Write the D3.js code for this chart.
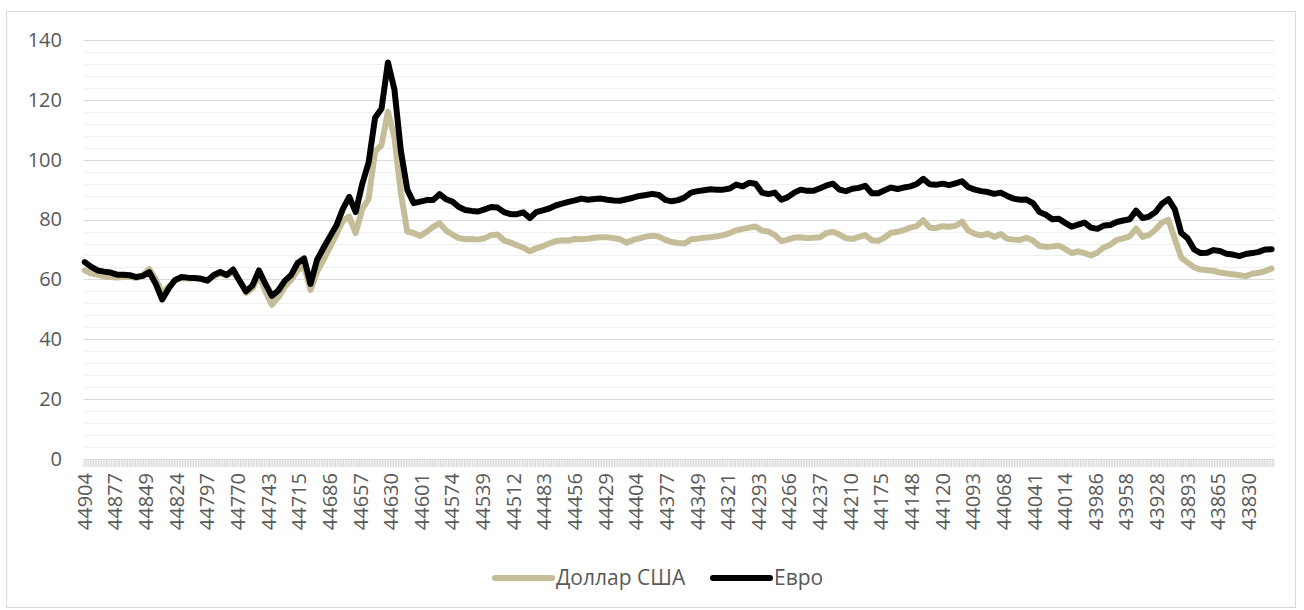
<!DOCTYPE html>
<html><head><meta charset="utf-8">
<script src="https://cdn.jsdelivr.net/npm/d3@7"></script>
<style>
body{margin:0;background:#fff;}
svg text{font-family:"Open Sans",sans-serif;fill:#595959;}
</style>
</head><body>
<svg id="chart" width="1304" height="610"></svg>
<script>
// ---- data ----
const tickLabels = ["44904","44877","44849","44824","44797","44770","44743","44715","44686","44657",
  "44630","44601","44574","44539","44512","44483","44456","44429","44404","44377","44349","44321",
  "44293","44266","44237","44210","44175","44148","44120","44093","44068","44041","44014","43986",
  "43958","43928","43893","43865","43830"];
const nCategories = 738;   // number of dates on the category axis
const labelEvery = 19;     // one label each 19 categories
const sampleStep = 4;      // values below were read every 4 categories
const yTicks = [0,20,40,60,80,100,120,140];
const seriesNames = ["Доллар США","Евро"];

const usd = [63.0,62.0,61.5,61.0,60.8,60.6,60.8,60.9,60.5,61.5,
  63.5,60.0,55.5,57.5,59.8,60.5,60.3,60.5,60.3,59.8,
  61.0,62.0,61.3,62.5,59.5,55.5,57.0,61.5,56.0,51.5,
  54.0,57.5,60.0,63.0,64.5,56.5,62.5,66.5,70.8,75.0,
  79.5,81.0,75.5,83.5,86.8,102.7,104.9,116.0,107.5,89.0,
  76.0,75.5,74.5,75.9,77.6,78.8,76.3,75.0,73.8,73.4,
  73.5,73.3,73.8,74.8,75.0,73.0,72.3,71.4,70.6,69.4,
  70.4,71.1,72.0,72.8,73.1,73.0,73.5,73.4,73.6,73.9,
  74.1,74.1,73.8,73.4,72.3,73.2,73.7,74.3,74.6,74.3,
  73.2,72.5,72.2,72.0,73.4,73.6,73.9,74.1,74.4,74.8,
  75.5,76.4,76.9,77.3,77.7,76.3,76.0,74.8,72.8,73.3,
  74.0,74.1,73.8,73.9,74.1,75.5,75.9,75.0,73.8,73.5,
  74.2,74.8,73.1,72.9,74.0,75.6,75.9,76.5,77.3,77.8,
  79.8,77.3,77.2,77.8,77.6,77.9,79.3,76.3,75.2,74.7,
  75.3,74.2,75.2,73.6,73.3,73.2,73.9,73.0,71.2,70.9,
  71.0,71.3,70.2,68.8,69.4,68.8,68.0,69.0,70.7,71.6,
  73.2,73.7,74.4,77.0,74.2,74.9,76.6,79.0,79.9,73.5,
  67.3,65.6,64.0,63.3,63.1,62.9,62.3,62.0,61.7,61.4,
  61.1,61.9,62.2,62.8,63.6];

const eur = [65.8,64.2,63.0,62.6,62.3,61.6,61.6,61.4,60.8,61.2,
  62.4,58.5,53.3,57.0,59.8,60.8,60.6,60.5,60.2,59.6,
  61.5,62.5,61.5,63.3,59.5,56.0,58.0,63.0,58.5,54.5,
  56.3,59.5,61.5,65.5,67.0,58.5,66.5,70.5,74.3,78.0,
  83.5,87.6,82.5,91.8,99.0,114.0,117.0,132.5,123.5,103.0,
  90.0,85.5,86.0,86.5,86.5,88.5,86.8,86.0,84.2,83.2,
  82.9,82.7,83.4,84.2,84.0,82.5,81.8,81.8,82.4,80.5,
  82.5,83.1,83.7,84.7,85.3,85.9,86.4,87.0,86.6,86.9,
  87.0,86.6,86.4,86.3,86.8,87.3,87.9,88.2,88.6,88.2,
  86.6,86.1,86.5,87.4,89.0,89.5,89.8,90.1,90.0,90.0,
  90.4,91.7,91.1,92.3,92.0,89.0,88.5,89.0,86.6,87.5,
  89.0,90.0,89.6,89.6,90.5,91.4,92.0,90.0,89.5,90.3,
  90.6,91.3,88.8,88.8,89.8,90.7,90.2,90.7,91.1,91.9,
  93.6,91.8,91.6,92.0,91.5,92.1,92.8,90.8,90.0,89.5,
  89.2,88.6,89.0,87.9,87.0,86.6,86.7,85.5,82.5,81.6,
  80.1,80.3,78.9,77.6,78.3,79.0,77.3,76.9,78.0,78.2,
  79.2,79.7,80.1,83.0,80.5,81.0,82.5,85.3,86.8,83.4,
  75.5,73.7,70.0,68.8,68.9,69.8,69.5,68.6,68.3,67.8,
  68.5,68.8,69.2,70.0,70.1];

// ---- layout ----
const plot = {left: 84, right: 1274, top: 40, bottom: 459};
const colors = {usd: "#c4bd97", eur: "#000000", grid: "#d9d9d9", minor: "#f0f0f0"};

const svg = d3.select("#chart");

svg.append("rect").attr("x", 6.5).attr("y", 11.5).attr("width", 1289).attr("height", 596)
  .attr("fill", "#fff").attr("stroke", "#d9d9d9").attr("stroke-width", 1);

const x = d3.scaleBand().domain(d3.range(nCategories)).range([plot.left, plot.right]).padding(0);
const y = d3.scaleLinear().domain([0, 140]).range([plot.bottom, plot.top]);
const cx = i => x(i) + x.bandwidth() / 2;

// minor gridlines
const minorTicks = d3.range(0, 141, 4).filter(v => v % 20 !== 0);
svg.append("g").selectAll("line").data(minorTicks).join("line")
  .attr("x1", plot.left).attr("x2", plot.right)
  .attr("y1", d => Math.round(y(d)) + 0.5).attr("y2", d => Math.round(y(d)) + 0.5)
  .attr("stroke", colors.minor).attr("stroke-width", 1);

// major gridlines
svg.append("g").selectAll("line").data(yTicks.filter(v => v > 0)).join("line")
  .attr("x1", plot.left).attr("x2", plot.right)
  .attr("y1", d => Math.round(y(d)) + 0.5).attr("y2", d => Math.round(y(d)) + 0.5)
  .attr("stroke", colors.grid).attr("stroke-width", 1);

// y axis labels
const yAxis = svg.append("g").attr("transform", `translate(${plot.left},0)`)
  .call(d3.axisLeft(y).tickValues(yTicks).tickSize(0).tickPadding(22));
yAxis.select(".domain").remove();
yAxis.selectAll("text").attr("font-size", 20).style("font-family", '"Open Sans",sans-serif').attr("fill", "#595959");

// category tick marks (dense band)
svg.append("g").selectAll("line").data(d3.range(nCategories + 1)).join("line")
  .attr("x1", d => plot.left + d * x.step()).attr("x2", d => plot.left + d * x.step())
  .attr("y1", plot.bottom).attr("y2", plot.bottom + 8)
  .attr("stroke", "#d9d9d9").attr("stroke-width", 1);

// horizontal axis line
svg.append("line").attr("x1", plot.left).attr("x2", plot.right)
  .attr("y1", plot.bottom + 0.5).attr("y2", plot.bottom + 0.5)
  .attr("stroke", "#d9d9d9").attr("stroke-width", 1);

// x labels
svg.append("g").selectAll("text").data(tickLabels).join("text")
  .attr("transform", (d, j) => `translate(${cx(j * labelEvery)},${plot.bottom + 14}) rotate(-90)`)
  .attr("text-anchor", "end").attr("dy", "0.35em").attr("font-size", 20)
  .text(d => d);

// series
const line = d3.line().x((d, k) => cx(k * sampleStep)).y(d => y(d)).curve(d3.curveLinear);
svg.append("path").datum(usd).attr("d", line).attr("fill", "none")
  .attr("stroke", colors.usd).attr("stroke-width", 6).attr("stroke-linejoin", "round").attr("stroke-linecap", "round");
svg.append("path").datum(eur).attr("d", line).attr("fill", "none")
  .attr("stroke", colors.eur).attr("stroke-width", 6).attr("stroke-linejoin", "round").attr("stroke-linecap", "round");

// legend
const legend = [
  {name: seriesNames[0], color: colors.usd, x: 495},
  {name: seriesNames[1], color: colors.eur, x: 713}
];
const lg = svg.append("g").selectAll("g").data(legend).join("g")
  .attr("transform", d => `translate(${d.x},578)`);
lg.append("line").attr("x1", 0).attr("x2", 57).attr("y1", 0).attr("y2", 0)
  .attr("stroke", d => d.color).attr("stroke-width", 6).attr("stroke-linecap", "round");
lg.append("text").attr("x", 61).attr("dy", "0.35em").attr("font-size", 21).text(d => d.name);
</script>
</body></html>
